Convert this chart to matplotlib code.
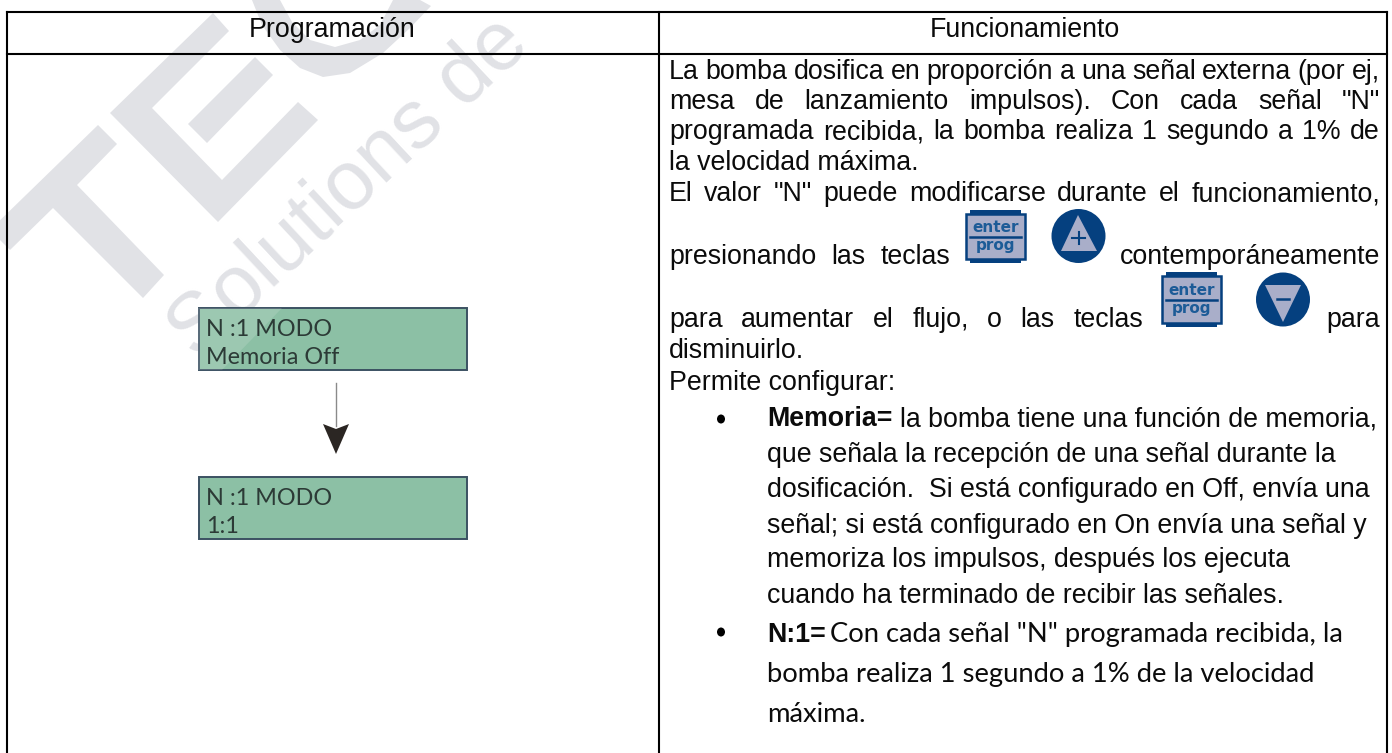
import matplotlib
matplotlib.use("Agg")
import matplotlib.pyplot as plt
from matplotlib.patches import Polygon, Rectangle, Ellipse

# ---- content -------------------------------------------------------------
HEADERS = ["Programación", "Funcionamiento"]
DISPLAY_1 = ["N :1 MODO", "Memoria Off"]
DISPLAY_2 = ["N :1 MODO", "1:1"]
WATERMARK_TEXT = "Solutions de"

JUSTIFIED = [
    ("La bomba dosifica en proporción a una señal externa (por ej,", 669, 1380, 79),
    ('mesa de lanzamiento impulsos). Con cada señal "N"', 669, 1380, 109),
    ("programada recibida, la bomba realiza 1 segundo a 1% de", 669, 1380, 139),
    ('El valor "N" puede modificarse durante el funcionamiento,', 669, 1380, 201),
    ("presionando las teclas", 669, 950, 264),
    ("para aumentar el flujo, o las teclas", 669, 1143, 327),
]
PLAIN = [
    ("la velocidad máxima.", 669, 170),
    ("disminuirlo.", 669, 358),
    ("Permite configurar:", 669, 390),
    ("que señala la recepción de una señal durante la", 767, 462),
    ("dosificación.  Si está configurado en Off, envía una", 767, 497),
    ("señal; si está configurado en On envía una señal y", 767, 533),
    ("memoriza los impulsos, después los ejecuta", 767, 567),
    ("cuando ha terminado de recibir las señales.", 767, 603),
]
CALIBRI_LINES = [
    ('Con cada señal "N" programada recibida, la', 830, 642),
    ("bomba realiza 1 segundo a 1% de la velocidad", 767, 682),
    ("máxima.", 767, 722),
]

GREY = "#e1e2e6"
BODY = "#0b0b0b"
ICON_DARK = "#05407f"
ICON_FILL = "#a9aec9"
ICON_TEXT = "#1c5b97"
LCD = "#8cc0a5"
LCD_EDGE = "#3b5162"
ARIAL = "Liberation Sans"
CALIBRI = "Lato"
FS = 19.25

fig = plt.figure(figsize=(13.92, 7.53), dpi=100, facecolor="white")
ax = fig.add_axes([0, 0, 1, 1])
ax.set_xlim(0, 1392)
ax.set_ylim(753, 0)
ax.axis("off")
renderer = fig.canvas.get_renderer()


def width(s, **kw):
    t = ax.text(0, 0, s, **kw)
    w = t.get_window_extent(renderer).width
    t.remove()
    return w


def justified(s, x0, x1, y):
    words = s.split()
    kw = dict(fontsize=FS, family=ARIAL, color=BODY, va="baseline", zorder=5)
    ws = [width(w, **kw) for w in words]
    gap = (x1 - x0 - sum(ws)) / max(len(words) - 1, 1)
    x = x0
    for w, wd in zip(words, ws):
        ax.text(x, y, w, **kw)
        x += wd + gap


# ---- watermark -----------------------------------------------------------
T_SHAPE = [(-10, 230), (98, 125), (117, 144), (77, 185), (164, 275), (143, 298),
           (53, 208), (10, 250)]
E_SHAPE = [(110, 113), (213, 13), (229, 31), (152, 108), (222, 180), (298, 102),
           (318, 120), (218, 222)]
E_BAR = [(255, 57), (273, 75), (207, 143), (188, 124)]
C_SHAPE = [(252, 0), (262, 25), (280, 50), (300, 68), (323, 77), (350, 73), (383, 53),
           (410, 28), (431, 6), (420, 0), (393, 0), (380, 25), (360, 40), (335, 47),
           (310, 40), (292, 22), (280, 0)]
for shape in (T_SHAPE, E_SHAPE, E_BAR, C_SHAPE):
    ax.add_patch(Polygon(shape, closed=True, fc=GREY, ec="none", zorder=1))
ax.text(196, 360, WATERMARK_TEXT, fontsize=60, family="Liberation Sans", color=GREY,
        rotation=43, rotation_mode="anchor", ha="left", va="baseline", zorder=1)

# ---- table frame ---------------------------------------------------------
FRAME_LW = 1.5
for xs, ys in [((7, 1387), (12, 12)), ((7, 1387), (53.5, 53.5)),
               ((7, 7), (12, 753)), ((659, 659), (12, 753)), ((1387, 1387), (12, 753))]:
    ax.plot(xs, ys, color="black", lw=FRAME_LW, solid_capstyle="projecting", zorder=4)

ax.text(332.5, 37, HEADERS[0], fontsize=FS, family=ARIAL, color=BODY, ha="center",
        va="baseline", zorder=5)
ax.text(1025, 37, HEADERS[1], fontsize=FS, family=ARIAL, color=BODY, ha="center",
        va="baseline", zorder=5)


# ---- left column ---------------------------------------------------------
def lcd(y0, lines):
    ax.add_patch(Rectangle((198.5, y0), 268.5, 62, fc=LCD, ec=LCD_EDGE, lw=1.4, zorder=3))
    ax.text(206, y0 + 27.5, lines[0], fontsize=16.8, family=CALIBRI, color="#2c3a36",
            va="baseline", zorder=5)
    ax.text(206, y0 + 56, lines[1], fontsize=16.8, family=CALIBRI, color="#2c3a36",
            va="baseline", zorder=5)


lcd(308, DISPLAY_1)
ax.add_patch(Polygon([(198, 308), (282, 308), (222, 370), (198, 370)], closed=True,
                     fc="white", alpha=0.14, ec="none", zorder=4))
lcd(477, DISPLAY_2)
ax.plot([336, 336], [383, 426], color="#8a8a8a", lw=1.0, zorder=4)
ax.add_patch(Polygon([(323, 424), (336, 429), (349, 424), (336, 454)], closed=True,
                     fc="#2b2623", ec="none", zorder=4))

# ---- right column --------------------------------------------------------
for line in JUSTIFIED:
    justified(*line)
for s, x, y in PLAIN:
    ax.text(x, y, s, fontsize=FS, family=ARIAL, color=BODY, va="baseline", zorder=5)
ax.text(1380, 264, "contemporáneamente", fontsize=FS, family=ARIAL, color=BODY,
        ha="right", va="baseline", zorder=5)
ax.text(1380, 327, "para", fontsize=FS, family=ARIAL, color=BODY, ha="right",
        va="baseline", zorder=5)

# bulleted rows
for yb in (419, 632):
    ax.add_patch(Ellipse((721, yb), 8, 9, fc="black", ec="none", zorder=5))
ax.text(767, 426, "Memoria=", fontsize=FS, family=ARIAL, weight="bold", color=BODY,
        va="baseline", zorder=5)
ax.text(900, 426, "la bomba tiene una función de memoria,", fontsize=FS, family=ARIAL,
        color=BODY, va="baseline", zorder=5)
ax.text(767, 642, "N:1=", fontsize=FS, family=ARIAL, weight="bold", color=BODY,
        va="baseline", zorder=5)
for s, x, y in CALIBRI_LINES:
    ax.text(x, y, s, fontsize=19.7, family=CALIBRI, color=BODY, va="baseline", zorder=5)


# icons
def enter_key(x0, x1, y0, y1):
    ax.add_patch(Rectangle((x0 + 5, y0), x1 - x0 - 10, y1 - y0, fc=ICON_DARK, ec="none", zorder=5))
    ax.add_patch(Rectangle((x0 + 1, y0 + 4), x1 - x0 - 2, y1 - y0 - 8, fc=ICON_FILL,
                           ec=ICON_DARK, lw=1.8, zorder=6))
    cx = (x0 + x1) / 2
    cy = (y0 + y1) / 2
    ax.plot([x0 + 5, x1 - 5], [cy, cy], color=ICON_DARK, lw=1.8, zorder=7)
    ax.text(cx, cy - 5, "enter", fontsize=11, weight="bold", family="DejaVu Sans",
            color=ICON_TEXT, ha="center", va="baseline", zorder=7)
    ax.text(cx, cy + 13, "prog", fontsize=11, weight="bold", family="DejaVu Sans",
            color=ICON_TEXT, ha="center", va="baseline", zorder=7)


enter_key(965, 1026, 210, 263)
enter_key(1161, 1222, 272, 327)
ax.add_patch(Ellipse((1078.5, 236), 54, 54, fc=ICON_DARK, ec="none", zorder=5))
ax.add_patch(Polygon([(1078, 215), (1061, 251), (1097, 251)], closed=True, fc=ICON_FILL,
                     ec="none", zorder=6))
ax.plot([1078.5, 1078.5], [232, 244], color=ICON_DARK, lw=1.5, zorder=7)
ax.plot([1072, 1085], [238, 238], color=ICON_DARK, lw=1.5, zorder=7)
ax.add_patch(Ellipse((1283, 299.5), 54, 54, fc=ICON_DARK, ec="none", zorder=5))
ax.add_patch(Polygon([(1265, 285), (1301, 285), (1283, 322)], closed=True, fc=ICON_FILL,
                     ec="none", zorder=6))
ax.plot([1277, 1289], [299, 299], color=ICON_DARK, lw=1.8, zorder=7)

fig.savefig("out.png", dpi=100, facecolor="white")
